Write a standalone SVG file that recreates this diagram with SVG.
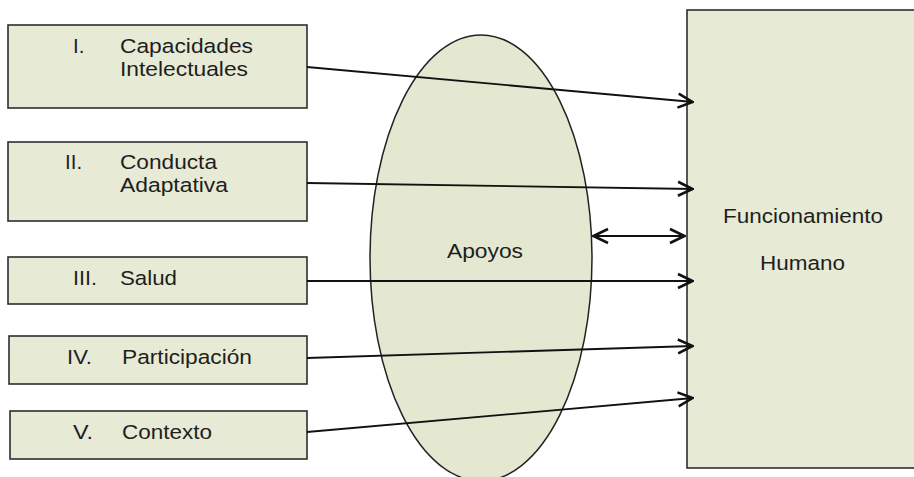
<svg xmlns="http://www.w3.org/2000/svg" width="914" height="477" viewBox="0 0 914 477">
<defs>
<style>
.box{fill:#e7ead4;stroke:#2e2e2e;stroke-width:1.6}
.t{font-family:"Liberation Sans",Arial,sans-serif;font-size:20.5px;fill:#1e1e1e}
.c{fill:none;stroke:#111;stroke-width:1.8}
</style>
<marker id="ah" viewBox="0 0 18 18" refX="17" refY="9" markerWidth="18" markerHeight="18" markerUnits="userSpaceOnUse" orient="auto-start-reverse">
<path d="M2,2 L16.5,9 L2,16" fill="none" stroke="#111" stroke-width="2.6"/>
</marker>
</defs>
<rect width="914" height="477" fill="#ffffff"/>
<g id="funcionamiento">
<rect class="box" x="687" y="10" width="232" height="458"/>
<text class="t" x="723" y="223" textLength="160" lengthAdjust="spacingAndGlyphs">Funcionamiento</text>
<text class="t" x="760" y="270" textLength="85" lengthAdjust="spacingAndGlyphs">Humano</text>
</g>
<g id="apoyos">
<ellipse cx="481" cy="258" rx="111" ry="223" fill="#e4e8d0" stroke="#222" stroke-width="1.5"/>
<text class="t" x="447" y="258" textLength="76" lengthAdjust="spacingAndGlyphs">Apoyos</text>
</g>
<g id="n1">
<rect class="box" x="8" y="25" width="299" height="83"/>
<text class="t" x="73" y="53">I.</text>
<text class="t" x="120" y="53" textLength="133" lengthAdjust="spacingAndGlyphs">Capacidades</text>
<text class="t" x="120" y="76" textLength="128" lengthAdjust="spacingAndGlyphs">Intelectuales</text>
</g>
<g id="n2">
<rect class="box" x="8" y="142" width="299" height="79"/>
<text class="t" x="65" y="169">II.</text>
<text class="t" x="120" y="169" textLength="97" lengthAdjust="spacingAndGlyphs">Conducta</text>
<text class="t" x="120" y="192" textLength="108" lengthAdjust="spacingAndGlyphs">Adaptativa</text>
</g>
<g id="n3">
<rect class="box" x="8" y="257" width="299" height="47"/>
<text class="t" x="73" y="285" textLength="24" lengthAdjust="spacingAndGlyphs">III.</text>
<text class="t" x="120" y="285" textLength="57" lengthAdjust="spacingAndGlyphs">Salud</text>
</g>
<g id="n4">
<rect class="box" x="9" y="336" width="298" height="48"/>
<text class="t" x="67" y="364" textLength="25" lengthAdjust="spacingAndGlyphs">IV.</text>
<text class="t" x="122" y="364" textLength="130" lengthAdjust="spacingAndGlyphs">Participación</text>
</g>
<g id="n5">
<rect class="box" x="10" y="411" width="297" height="48"/>
<text class="t" x="73" y="439" textLength="20" lengthAdjust="spacingAndGlyphs">V.</text>
<text class="t" x="122" y="439" textLength="90" lengthAdjust="spacingAndGlyphs">Contexto</text>
</g>
<g id="connectors">
<line class="c" x1="307" y1="67" x2="693" y2="102" marker-end="url(#ah)"/>
<line class="c" x1="307" y1="183" x2="693" y2="189" marker-end="url(#ah)"/>
<line class="c" x1="593" y1="236" x2="685" y2="236" marker-start="url(#ah)" marker-end="url(#ah)"/>
<line class="c" x1="307" y1="281" x2="693" y2="281" marker-end="url(#ah)"/>
<line class="c" x1="307" y1="358" x2="693" y2="346" marker-end="url(#ah)"/>
<line class="c" x1="307" y1="432" x2="693" y2="398" marker-end="url(#ah)"/>
</g>
</svg>
